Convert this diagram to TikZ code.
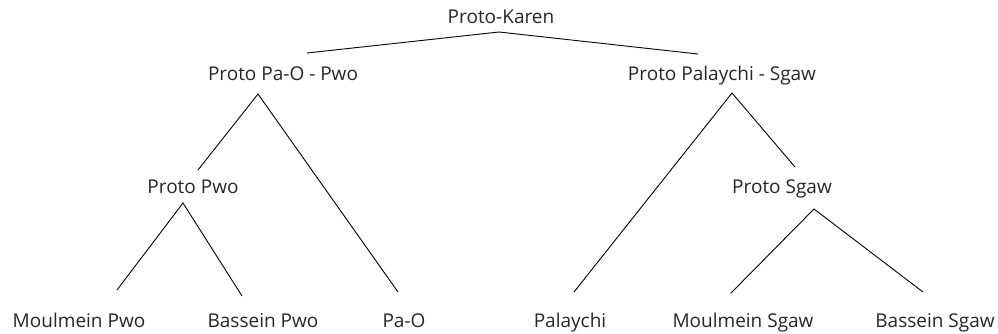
\documentclass[tikz,border=0pt]{standalone}
\usepackage{fontspec}
\setmainfont{Open Sans}
\begin{document}
\begin{tikzpicture}[x=1pt,y=-1pt,
  lang/.style={anchor=base,inner sep=0pt,font=\fontsize{19}{22}\selectfont,text=black!85},
  branch/.style={draw=black,line width=0.9pt}]
\useasboundingbox (0,0) rectangle (998,333);
% language labels (positioned by baseline)
\node[lang] (pk)   at (501,23)  {Proto-Karen};
\node[lang] (ppp)  at (283,80)  {Proto Pa-O - Pwo};
\node[lang] (pps)  at (722,80)  {Proto Palaychi - Sgaw};
\node[lang] (ppwo) at (193,193) {Proto Pwo};
\node[lang] (psg)  at (782,193) {Proto Sgaw};
\node[lang] (mp)   at (79,327)  {Moulmein Pwo};
\node[lang] (bp)   at (263,327) {Bassein Pwo};
\node[lang] (pao)  at (404,327) {Pa-O};
\node[lang] (pal)  at (570,327) {Palaychi};
\node[lang] (ms)   at (743,327) {Moulmein Sgaw};
\node[lang] (bs)   at (935,327) {Bassein Sgaw};
% branch points below parents and line ends above children
\coordinate (pk-b)   at (499,32);
\coordinate (ppp-t)  at (307,53);
\coordinate (pps-t)  at (698,54);
\coordinate (ppp-b)  at (258,94);
\coordinate (pps-b)  at (732,93);
\coordinate (ppwo-t) at (198,170);
\coordinate (psg-t)  at (795,167);
\coordinate (ppwo-b) at (183,203);
\coordinate (psg-b)  at (814,209);
\coordinate (mp-t)   at (117,290);
\coordinate (bp-t)   at (242,296);
\coordinate (pao-t)  at (398,292);
\coordinate (pal-t)  at (574,292);
\coordinate (ms-t)   at (731,293);
\coordinate (bs-t)   at (923,292);
% tree branches
\draw[branch] (ppp-t) -- (pk-b) -- (pps-t);
\draw[branch] (ppwo-t) -- (ppp-b) -- (pao-t);
\draw[branch] (pal-t) -- (pps-b) -- (psg-t);
\draw[branch] (mp-t) -- (ppwo-b) -- (bp-t);
\draw[branch] (ms-t) -- (psg-b) -- (bs-t);
\end{tikzpicture}
\end{document}
